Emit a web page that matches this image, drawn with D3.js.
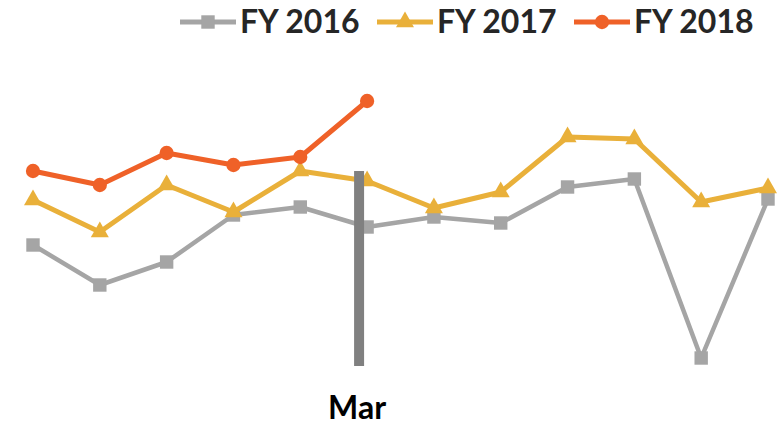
<!DOCTYPE html>
<html>
<head>
<meta charset="utf-8">
<script src="https://cdn.jsdelivr.net/npm/d3@7"></script>
<style>
  html, body { margin: 0; padding: 0; background: #fff; }
  svg { display: block; }
</style>
</head>
<body>
<svg id="chart" width="783" height="426"></svg>
<script>
// Fiscal-year months, October through September
const months = ["Oct", "Nov", "Dec", "Jan", "Feb", "Mar", "Apr", "May", "Jun", "Jul", "Aug", "Sep"];

// Monthly index values per fiscal year
const fy2016 = [155, 115, 138, 185, 193, 173, 183, 177, 213, 221, 42, 201];
const fy2017 = [200, 168, 215, 188, 229, 219, 192, 208, 263, 261, 198, 212];
const fy2018 = [229, 215, 247, 235, 243, 299];

const seriesNames = ["FY 2016", "FY 2017", "FY 2018"];
const seriesColors = ["#A5A5A5", "#E9B03A", "#EF6128"];
const seriesShapes = ["square", "triangle", "circle"];

// Current-month marker
const markerMonth = "Mar";
const markerRange = [34, 229];

const svg = d3.select("#chart");

const x = d3.scalePoint().domain(months).range([33, 768]);
const y = d3.scaleLinear().domain([0, 300]).range([400, 100]);

const series = [fy2016, fy2017, fy2018].map((vals, i) => ({
  name: seriesNames[i],
  color: seriesColors[i],
  shape: seriesShapes[i],
  points: vals.map((v, j) => ({ month: months[j], value: v }))
}));

const line = d3.line()
  .x(d => x(d.month))
  .y(d => y(d.value));

const symbolFor = {
  square: d3.symbol().type(d3.symbolSquare).size(180),
  triangle: d3.symbol().type(d3.symbolTriangle).size(140),
  circle: d3.symbol().type(d3.symbolCircle).size(160)
};

const plot = svg.append("g");

series.forEach(s => {
  const g = plot.append("g");
  g.append("path")
    .datum(s.points)
    .attr("fill", "none")
    .attr("stroke", s.color)
    .attr("stroke-width", s.shape === "square" ? 4.5 : 5)
    .attr("stroke-linejoin", "round")
    .attr("d", line);
  g.selectAll("path.pt")
    .data(s.points)
    .join("path")
    .attr("class", "pt")
    .attr("fill", s.color)
    .attr("transform", d => `translate(${x(d.month)},${y(d.value)})`)
    .attr("d", symbolFor[s.shape]());
});

// Vertical bar marking the current month
const barX = x(markerMonth) - 8;
svg.append("rect")
  .attr("x", barX - 5)
  .attr("y", y(markerRange[1]))
  .attr("width", 10)
  .attr("height", y(markerRange[0]) - y(markerRange[1]))
  .attr("fill", "#808080");

svg.append("text")
  .attr("x", barX - 2)
  .attr("y", 419)
  .attr("text-anchor", "middle")
  .attr("font-family", "Lato, 'Open Sans', sans-serif")
  .attr("font-weight", "bold")
  .attr("font-size", 32)
  .attr("fill", "#000")
  .text(markerMonth);

// Legend
const legendX = [180, 377, 574];
const legend = svg.append("g");
series.forEach((s, i) => {
  const g = legend.append("g").attr("transform", `translate(${legendX[i]},22)`);
  g.append("line")
    .attr("x1", 0).attr("x2", 56)
    .attr("stroke", s.color)
    .attr("stroke-width", 5);
  g.append("path")
    .attr("transform", "translate(28,0)")
    .attr("fill", s.color)
    .attr("d", symbolFor[s.shape]());
  g.append("text")
    .attr("x", 60)
    .attr("y", 11)
    .attr("font-family", "Lato, 'Open Sans', sans-serif")
    .attr("font-weight", "bold")
    .attr("font-size", 32)
    .attr("fill", "#262626")
    .text(s.name);
});
</script>
</body>
</html>
